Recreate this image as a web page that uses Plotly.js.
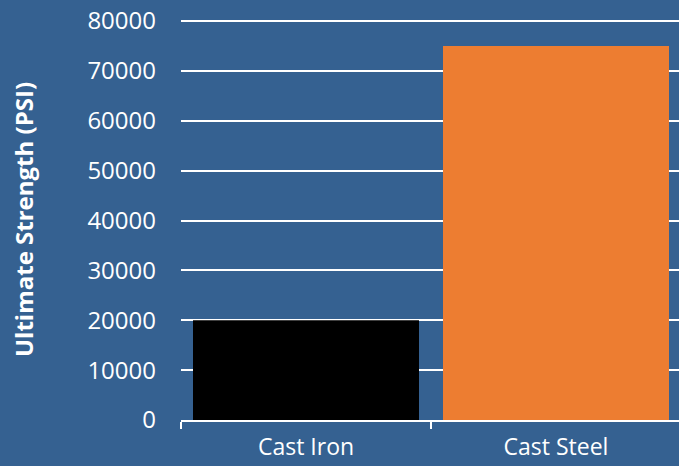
<!DOCTYPE html>
<html>
<head>
<meta charset="utf-8">
<script src="https://cdn.plot.ly/plotly-3.0.1.min.js"></script>
<style>html,body{margin:0;padding:0;background:#356191;overflow:hidden;}#chart{width:681px;height:466px;}</style>
</head>
<body>
<div id="chart"></div>
<script>
const categories = ["Cast Iron", "Cast Steel"];
const strengthValues = [20000, 75000];
const barColors = ["#000000", "#ED7D31"];
const yTickValues = [0, 10000, 20000, 30000, 40000, 50000, 60000, 70000, 80000];
const yTickLabels = ["0", "10000", "20000", "30000", "40000", "50000", "60000", "70000", "80000"];

const trace = {
  type: "bar",
  x: categories,
  y: strengthValues,
  marker: {color: barColors, line: {width: 0}},
  hoverinfo: "skip"
};

const layout = {
  width: 681, height: 466,
  margin: {l: 181, r: 0, t: 19, b: 46, pad: 0},
  paper_bgcolor: "#356191",
  plot_bgcolor: "#356191",
  font: {family: "Open Sans", color: "#ffffff", size: 24},
  bargap: 0.096,
  showlegend: false,
  xaxis: {
    type: "category",
    tickson: "boundaries",
    ticks: "outside",
    ticklen: 7,
    tickwidth: 2,
    tickcolor: "#ffffff",
    showline: true,
    linecolor: "#ffffff",
    linewidth: 2,
    showgrid: false,
    ticklabelstandoff: 5,
    tickfont: {family: "Open Sans", size: 23, color: "#ffffff"}
  },
  yaxis: {
    range: [0, 80400],
    tickvals: yTickValues,
    ticktext: yTickLabels,
    showgrid: true,
    gridcolor: "#ffffff",
    gridwidth: 2,
    zeroline: false,
    showline: false,
    ticks: "",
    ticklabelstandoff: 24,
    tickfont: {family: "Open Sans", size: 24, color: "#ffffff"},
    title: {text: "<b>Ultimate Strength (PSI)</b>", font: {family: "Open Sans", size: 24, color: "#ffffff"}, standoff: 46}
  }
};

Plotly.newPlot("chart", [trace], layout, {staticPlot: true, displayModeBar: false});
</script>
</body>
</html>
